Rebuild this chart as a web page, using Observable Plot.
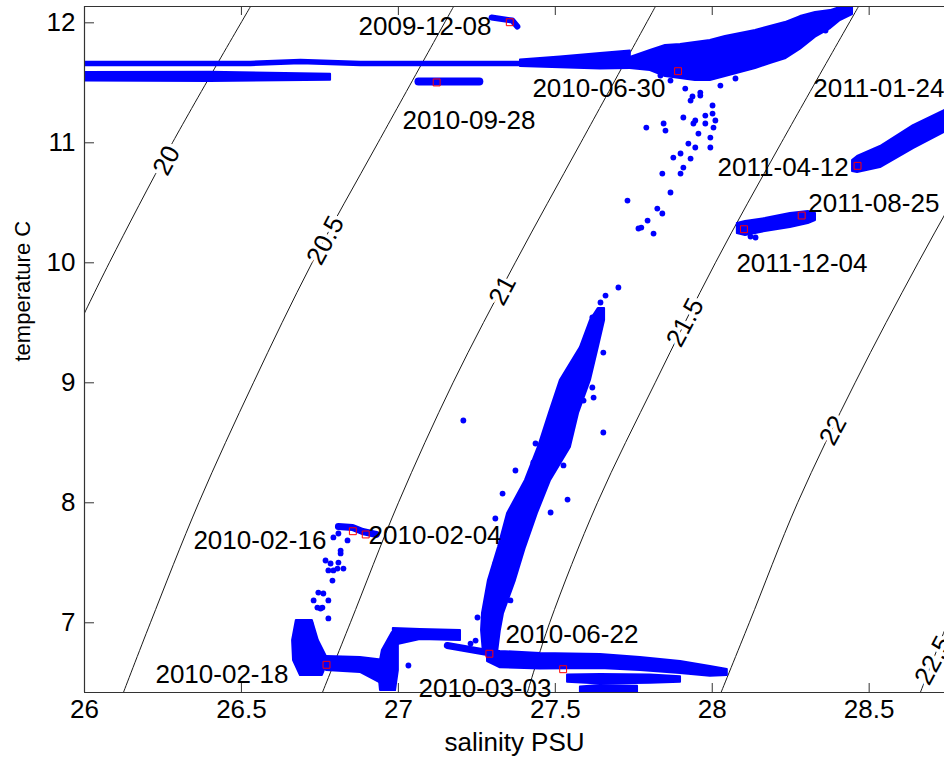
<!DOCTYPE html>
<html>
<head>
<meta charset="utf-8">
<script src="https://cdn.jsdelivr.net/npm/d3@7"></script>
<script src="https://cdn.jsdelivr.net/npm/@observablehq/plot@0.6"></script>
<style>
html, body { margin: 0; padding: 0; background: #fff; overflow: hidden; }
</style>
</head>
<body>
<div id="chart"></div>
<script>
// ---------- axes ----------
const xDomain = [26, 28.74];
const yDomain = [6.419, 12.136];
const xTicks = [26, 26.5, 27, 27.5, 28, 28.5];
const yTicks = [7, 8, 9, 10, 11, 12];
const xLabel = "salinity PSU";
const yLabel = "temperature C";

// ---------- density (sigma-t) contours, [S, T] ----------
const isoLevels = ["20", "20.5", "21", "21.5", "22", "22.5"];
const iso20  = [[25.985, 9.5], [26.079, 10], [26.280, 11], [26.529, 12.136]];
const iso205 = [[26.124, 6.419], [26.210, 7], [26.364, 8], [26.538, 9], [26.725, 10], [26.935, 11], [27.176, 12.136]];
const iso21  = [[26.758, 6.419], [26.847, 7], [27.000, 8], [27.174, 9], [27.372, 10], [27.581, 11], [27.819, 12.136]];
const iso215 = [[27.411, 6.419], [27.482, 7], [27.634, 8], [27.818, 9], [28.010, 10], [28.220, 11], [28.466, 12.136]];
const iso22  = [[28.028, 6.419], [28.118, 7], [28.272, 8], [28.455, 9], [28.656, 10], [28.870, 11], [29.120, 12.136]];
const iso225 = [[28.663, 6.419], [28.750, 7], [28.905, 8]];
const isoLabelS = [26.262, 26.768, 27.332, 27.914, 28.385, 28.705];
const isoLabelT = [10.852, 10.186, 9.769, 9.502, 8.602, 6.686];

// ---------- observations ----------
// dense tracks [S, T]
const trackTopRow = [[26.000, 11.661], [26.529, 11.661], [26.688, 11.677], [26.879, 11.661], [27.166, 11.661], [27.389, 11.661], [27.580, 11.677], [27.739, 11.686]];
const track0928 = [[27.064, 11.511], [27.258, 11.511]];
const track1208 = [[27.297, 12.044], [27.363, 12.019], [27.379, 11.969]];
const track0216 = [[26.809, 7.802], [26.854, 7.794], [26.886, 7.761], [26.930, 7.736]];
const trackLink = [[27.156, 6.811], [27.284, 6.752]];

// dense bands over salinity [S, Tlow, Thigh]
const bandLowRow = [[26.000, 11.515, 11.585], [26.400, 11.512, 11.588], [26.784, 11.522, 11.572]];
const bandTopThick = [[27.389, 11.635, 11.690], [27.516, 11.625, 11.715], [27.644, 11.615, 11.745], [27.739, 11.620, 11.765]];
const cluster0630 = [[27.739, 11.619, 11.711], [27.803, 11.602, 11.769], [27.851, 11.552, 11.811], [27.899, 11.536, 11.819], [27.946, 11.519, 11.836], [27.994, 11.519, 11.852], [28.042, 11.552, 11.886], [28.090, 11.586, 11.911], [28.138, 11.619, 11.936], [28.185, 11.661, 11.969], [28.233, 11.700, 12.002], [28.281, 11.780, 12.052], [28.329, 11.880, 12.086], [28.377, 11.952, 12.102], [28.408, 12.019, 12.128], [28.447, 12.069, 12.136]];
const band0412 = [[28.447, 10.761, 10.852], [28.463, 10.752, 10.886], [28.536, 10.794, 10.969], [28.641, 10.952, 11.144], [28.740, 11.086, 11.269], [28.800, 11.150, 11.330]];
const band1204 = [[28.080, 10.244, 10.327], [28.106, 10.227, 10.344], [28.169, 10.261, 10.369], [28.249, 10.294, 10.411], [28.306, 10.327, 10.427], [28.329, 10.352, 10.411]];
const bandMain = [[27.284, 6.677, 6.769], [27.325, 6.625, 6.761], [27.453, 6.615, 6.744], [27.644, 6.619, 6.736], [27.771, 6.602, 6.711], [27.899, 6.577, 6.677], [27.994, 6.555, 6.636], [28.048, 6.561, 6.611]];
const bandSub1 = [[27.539, 6.505, 6.565], [27.644, 6.490, 6.570], [27.803, 6.497, 6.565], [27.899, 6.505, 6.550]];
const bandSub2 = [[27.580, 6.419, 6.465], [27.644, 6.419, 6.478], [27.762, 6.419, 6.472]];
const bandPlateau = [[26.984, 6.811, 6.952], [27.070, 6.861, 6.944], [27.198, 6.852, 6.936]];
const bandLowLeft = [[26.771, 6.602, 6.719], [26.879, 6.586, 6.711], [26.959, 6.477, 6.686], [26.991, 6.436, 6.644]];

// dense bands over temperature [T, Slow, Shigh]
const arm = [[6.752, 27.271, 27.316], [6.936, 27.265, 27.325], [7.077, 27.268, 27.335], [7.352, 27.287, 27.373], [7.627, 27.319, 27.405], [7.911, 27.348, 27.443], [8.186, 27.405, 27.485], [8.461, 27.446, 27.548], [8.744, 27.481, 27.574], [9.019, 27.516, 27.612], [9.294, 27.580, 27.637], [9.519, 27.612, 27.657], [9.619, 27.637, 27.657]];
const hook = [[6.919, 26.981, 27.000], [6.769, 26.949, 27.000], [6.602, 26.937, 27.000], [6.436, 26.943, 26.991]];
const blob = [[7.019, 26.675, 26.726], [6.852, 26.663, 26.745], [6.686, 26.666, 26.777], [6.561, 26.688, 26.758]];

// scattered single samples [S, T]
const scatter = [
  [27.207, 8.686], [27.701, 9.794], [27.653, 8.586], [27.332, 8.077], [27.539, 8.027], [27.309, 7.869], [27.252, 7.044], [27.309, 7.494],
  [27.485, 7.919], [27.373, 8.269], [27.618, 8.961], [27.622, 8.877], [27.602, 9.394], [27.618, 9.544], [27.653, 9.252], [27.526, 8.311],
  [27.437, 8.494], [27.430, 8.336], [27.596, 9.211], [27.357, 7.186], [27.246, 6.852], [27.421, 8.019], [27.469, 8.269], [27.590, 8.852],
  [27.504, 8.602], [27.634, 9.477], [27.644, 9.669], [27.660, 9.727],
  [26.816, 7.578], [26.809, 7.502], [26.768, 7.519], [26.784, 7.494], [26.793, 7.436], [26.777, 7.436], [26.806, 7.452], [26.825, 7.452],
  [26.790, 7.352], [26.761, 7.244], [26.745, 7.252], [26.730, 7.186], [26.742, 7.127], [26.758, 7.127], [26.777, 7.036], [26.720, 6.994],
  [26.838, 7.686], [26.809, 7.744], [26.793, 7.711], [26.816, 7.602], [26.777, 7.186], [26.752, 7.119],
  [27.931, 11.352], [27.962, 11.394], [28.001, 11.311], [27.978, 11.227], [27.946, 11.186], [28.010, 11.186], [28.001, 11.244], [27.908, 11.211],
  [27.940, 11.161], [27.978, 11.161], [28.004, 11.127], [27.994, 11.044], [27.956, 11.077], [27.924, 10.994], [27.946, 10.961], [27.994, 10.961],
  [27.931, 10.869], [27.899, 10.911], [27.876, 10.877], [27.908, 10.794], [27.841, 10.744], [27.899, 10.744], [27.867, 10.586], [27.841, 10.411],
  [27.825, 10.452], [27.794, 10.352], [27.774, 10.294], [27.813, 10.244], [27.790, 11.127], [27.845, 11.161], [27.851, 11.102], [27.730, 10.519],
  [27.765, 10.286], [28.291, 11.961], [28.361, 11.936], [28.424, 12.102], [28.122, 10.219], [28.138, 10.211], [27.032, 6.644], [27.230, 6.827],
  [27.867, 11.519], [27.914, 11.452], [27.962, 11.419], [28.026, 11.477], [28.074, 11.536], [27.835, 11.561], [27.937, 11.386]
];

// dated samples and their labels
const markerDates = ["2009-12-08", "2010-06-30", "2010-09-28", "2011-01-24", "2011-04-12", "2011-08-25", "2011-12-04", "2010-02-16", "2010-02-04", "2010-02-18", "2010-06-22", "2010-03-03"];
const markerS = [27.355, 27.891, 27.122, 28.95, 28.463, 28.285, 28.101, 26.855, 26.896, 26.771, 27.290, 27.525];
const markerT = [12.005, 11.597, 11.503, 11.55, 10.808, 10.394, 10.280, 7.763, 7.736, 6.650, 6.742, 6.613];
const labelS = [26.873, 27.427, 27.013, 28.322, 28.017, 28.306, 28.077, 26.347, 26.905, 26.226, 27.341, 27.064];
const labelT = [11.969, 11.453, 11.186, 11.453, 10.794, 10.494, 9.994, 7.686, 7.728, 6.569, 6.902, 6.452];

// ---------- build ----------
const BLUE = "#0000ff";
const FONT = 26;
const isoData = [iso20, iso205, iso21, iso215, iso22, iso225]
  .flatMap((pts, i) => pts.map(([S, T]) => ({level: isoLevels[i], S, T})));
const isoLabels = isoLevels.map((l, i) => ({l, S: isoLabelS[i], T: isoLabelT[i]}));
const markers = markerDates.map((d, i) => ({d, S: markerS[i], T: markerT[i], lS: labelS[i], lT: labelT[i]}));

const track = (pts, w) => Plot.line(pts, {x: d => d[0], y: d => d[1], stroke: BLUE, strokeWidth: w, strokeLinecap: "round", strokeLinejoin: "round", clip: true});
const bandY = (pts) => Plot.areaY(pts, {x: d => d[0], y1: d => d[1], y2: d => d[2], fill: BLUE, stroke: BLUE, strokeWidth: 2, strokeLinejoin: "round", clip: true});
const bandX = (pts) => Plot.areaX(pts, {y: d => d[0], x1: d => d[1], x2: d => d[2], fill: BLUE, stroke: BLUE, strokeWidth: 2, strokeLinejoin: "round", clip: true});

const chart = Plot.plot({
  width: 944,
  height: 765,
  marginLeft: 84,
  marginRight: 0,
  marginTop: 6,
  marginBottom: 73,
  x: {domain: xDomain, axis: null},
  y: {domain: yDomain, axis: null},
  style: {fontFamily: "'Liberation Sans', Arial, sans-serif", fontSize: "26px", background: "white", color: "black", overflow: "visible"},
  marks: [
    // density contours
    Plot.line(isoData, {x: "S", y: "T", z: "level", stroke: "#1a1a1a", strokeWidth: 1, curve: "catmull-rom", clip: true}),
    // observations
    track(trackTopRow, 5.5),
    bandY(bandTopThick),
    bandY(bandLowRow),
    bandY(cluster0630),
    bandY(band0412),
    bandY(band1204),
    bandY(bandMain),
    bandY(bandSub1),
    bandY(bandSub2),
    bandY(bandPlateau),
    bandY(bandLowLeft),
    bandX(arm),
    bandX(hook),
    bandX(blob),
    track(track0928, 8),
    track(track1208, 6),
    track(track0216, 7),
    track(trackLink, 7),
    Plot.dot(scatter, {x: d => d[0], y: d => d[1], r: 2.9, fill: BLUE, clip: true}),
    // contour labels
    Plot.text(isoLabels, {x: "S", y: "T", text: "l", rotate: -62, fontSize: FONT, fill: "black", stroke: "white", strokeWidth: 7, paintOrder: "stroke", clip: true}),
    // dated markers
    Plot.dot(markers, {x: "S", y: "T", symbol: "square", r: 3.9, stroke: "#ff0000", fill: "none", strokeWidth: 1, clip: true}),
    // frame (left, bottom, top)
    Plot.ruleX([xDomain[0]], {stroke: "#333", strokeWidth: 1.2}),
    Plot.ruleY(yDomain, {stroke: "#333", strokeWidth: 1.2}),
    // inward ticks
    Plot.ruleX(xTicks, {x: d => d, insetTop: 677, stroke: "#333"}),
    Plot.ruleX(xTicks, {x: d => d, insetBottom: 677, stroke: "#333"}),
    Plot.ruleY(yTicks, {y: d => d, insetRight: 850, stroke: "#333"}),
    // tick labels
    Plot.text(xTicks, {x: d => d, text: d => String(d), frameAnchor: "bottom", dy: 25, fontSize: FONT}),
    Plot.text(yTicks, {y: d => d, text: d => String(d), frameAnchor: "left", dx: -9, textAnchor: "end", fontSize: FONT}),
    // axis labels
    Plot.text([xLabel], {text: d => d, frameAnchor: "bottom", dy: 58, fontSize: FONT}),
    Plot.text([yLabel], {text: d => d, frameAnchor: "left", dx: -62, dy: 12, rotate: -90, fontSize: 22}),
    // date labels
    Plot.text(markers, {x: "lS", y: "lT", text: "d", textAnchor: "start", fontSize: FONT})
  ]
});
document.getElementById("chart").append(chart);
</script>
</body>
</html>
